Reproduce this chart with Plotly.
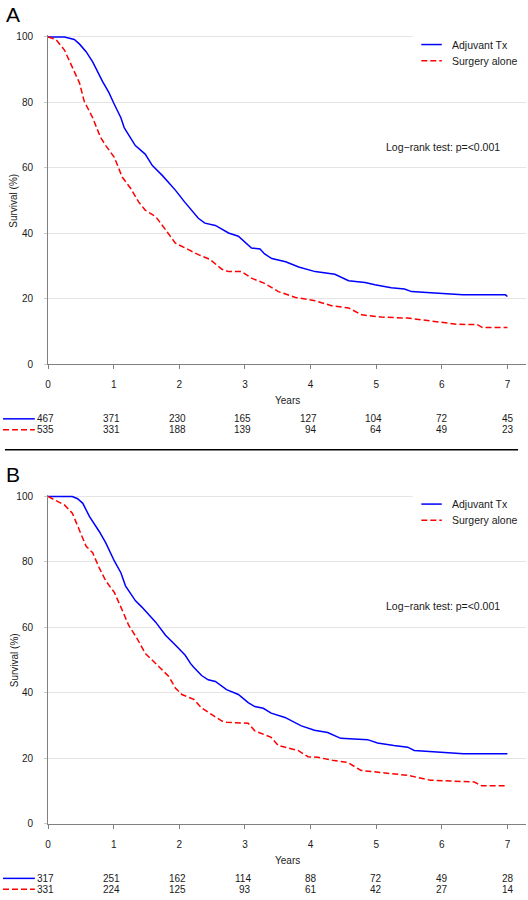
import plotly.graph_objects as go

W, H = 528, 900

# ---------------- data ----------------
year_ticks = [0, 1, 2, 3, 4, 5, 6, 7]
surv_ticks = [0, 20, 40, 60, 80, 100]
series_names = ["Adjuvant Tx", "Surgery alone"]
panel_labels = ["A", "B"]
logrank_text = "Log\u2212rank test: p=<0.001"

# Panel A
a_adj_t = [0, 0.25, 0.40, 0.48, 0.58, 0.68, 0.83, 0.93, 1.00, 1.11, 1.16, 1.33, 1.48, 1.59, 1.74,
           1.94, 2.08, 2.19, 2.29, 2.39, 2.55, 2.75, 2.90, 3.10, 3.23, 3.30, 3.41, 3.62, 3.82,
           4.07, 4.37, 4.58, 4.83, 4.98, 5.23, 5.43, 5.54, 5.89, 6.32, 6.97, 7.00]
a_adj_s = [100, 100, 99.2, 97.8, 95.5, 92.4, 86.4, 82.9, 79.8, 75.3, 72.3, 66.8, 64.2, 60.7, 57.7,
           53.2, 49.6, 47.1, 44.6, 43.1, 42.4, 40.1, 39.1, 35.5, 35.2, 33.7, 32.3, 31.3, 29.7,
           28.3, 27.5, 25.5, 25.0, 24.3, 23.4, 23.0, 22.2, 21.8, 21.2, 21.2, 20.7]
a_sur_t = [0, 0.12, 0.25, 0.35, 0.48, 0.55, 0.68, 0.80, 0.88, 1.01, 1.13, 1.26, 1.38, 1.48, 1.64,
           1.79, 1.94, 2.14, 2.29, 2.47, 2.65, 2.75, 2.95, 3.10, 3.30, 3.51, 3.77, 4.07, 4.32,
           4.58, 4.78, 5.08, 5.48, 5.84, 6.24, 6.54, 6.62, 7.00]
a_sur_s = [100, 99.2, 96.0, 91.4, 85.9, 80.4, 75.3, 69.3, 66.8, 63.2, 57.2, 53.7, 49.6, 47.1, 45.1,
           41.1, 37.0, 35.0, 33.5, 32.0, 29.0, 28.3, 28.3, 26.3, 24.7, 22.2, 20.4, 19.4, 17.9,
           17.2, 15.1, 14.4, 14.1, 13.2, 12.2, 12.1, 11.2, 11.2]
a_risk_adj = [467, 371, 230, 165, 127, 104, 72, 45]
a_risk_sur = [535, 331, 188, 139, 94, 64, 49, 23]

# Panel B
b_adj_t = [0, 0.37, 0.45, 0.53, 0.63, 0.78, 0.88, 1.01, 1.11, 1.18, 1.33, 1.43, 1.64, 1.79, 1.97,
           2.09, 2.17, 2.22, 2.34, 2.44, 2.55, 2.72, 2.90, 3.05, 3.15, 3.28, 3.40, 3.61, 3.86,
           4.06, 4.26, 4.46, 4.87, 5.02, 5.27, 5.48, 5.58, 5.98, 6.33, 7.00]
b_adj_s = [100, 100, 99.3, 97.9, 93.9, 89.3, 85.8, 80.3, 76.7, 72.7, 68.2, 66.2, 61.6, 57.6, 54.0,
           51.5, 49.0, 47.8, 45.3, 44.0, 43.5, 41.0, 39.5, 37.0, 35.8, 35.3, 33.8, 32.5, 29.9,
           28.6, 27.9, 26.1, 25.7, 24.7, 23.9, 23.4, 22.4, 21.9, 21.4, 21.4]
b_sur_t = [0, 0.12, 0.25, 0.37, 0.48, 0.58, 0.68, 0.78, 0.88, 1.01, 1.11, 1.23, 1.36, 1.48, 1.69,
           1.84, 1.94, 2.04, 2.22, 2.34, 2.49, 2.65, 2.72, 3.05, 3.15, 3.40, 3.51, 3.81, 3.96,
           4.11, 4.36, 4.56, 4.77, 5.07, 5.48, 5.83, 6.49, 6.61, 7.00]
b_sur_s = [100, 98.8, 97.4, 94.9, 89.8, 84.8, 82.8, 78.2, 74.2, 70.7, 66.2, 60.6, 56.5, 52.1, 48.0,
           45.0, 41.5, 39.5, 38.0, 35.4, 33.4, 31.4, 31.0, 30.7, 28.4, 26.4, 23.9, 22.4, 20.5,
           20.3, 19.3, 18.8, 16.3, 15.6, 14.8, 13.3, 12.8, 11.6, 11.6]
b_risk_adj = [317, 251, 162, 114, 88, 72, 49, 28]
b_risk_sur = [331, 224, 125, 93, 61, 42, 27, 14]

# ---------------- styling / layout ----------------
FONT = "Liberation Sans, Arial, Helvetica, sans-serif"
BLUE = "#0000ff"
RED = "#ff0000"
DASH = "6px,3px"
AX = "#808080"
GRID = "#e4e4e4"
TXT = "#1a1a1a"

X0, X1 = 45.3, 526.0          # plot area left/right in px
PX_PER_YEAR = 66.0
XMAX = (X1 - X0) / PX_PER_YEAR
PX_PER_PCT = 3.31
YMAX = 100.6

def fx(px):
    return px / W

def fy(py):
    return 1 - py / H

panels = [
    dict(label=panel_labels[0], dy=0.0, xa="x", ya="y",
         adj=(a_adj_t, a_adj_s), sur=(a_sur_t, a_sur_s), risk=(a_risk_adj, a_risk_sur)),
    dict(label=panel_labels[1], dy=464.7, xa="x2", ya="y2",
         adj=(b_adj_t, b_adj_s), sur=(b_sur_t, b_sur_s), risk=(b_risk_adj, b_risk_sur)),
]

fig = go.Figure()
annotations = []
shapes = []
layout_axes = {}

for i, p in enumerate(panels):
    dy = p["dy"]
    y_zero = 364.3 + dy
    y_top = y_zero - PX_PER_PCT * YMAX
    fig.add_trace(go.Scatter(x=p["adj"][0], y=p["adj"][1], mode="lines",
                             name=series_names[0], showlegend=False,
                             line=dict(color=BLUE, width=1.5),
                             xaxis=p["xa"], yaxis=p["ya"]))
    fig.add_trace(go.Scatter(x=p["sur"][0], y=p["sur"][1], mode="lines",
                             name=series_names[1], showlegend=False,
                             line=dict(color=RED, width=1.5, dash=DASH),
                             xaxis=p["xa"], yaxis=p["ya"]))
    sfx = "" if i == 0 else "2"
    layout_axes["xaxis" + sfx] = dict(
        domain=[fx(X0), fx(X1)], range=[0, XMAX], anchor=p["ya"],
        tickvals=year_ticks, ticks="outside", ticklen=4, tickcolor=AX, tickwidth=1,
        showline=True, linecolor=AX, linewidth=1, showgrid=False, zeroline=False,
        tickfont=dict(size=10, color=TXT, family=FONT), ticklabelstandoff=7,
        fixedrange=True)
    layout_axes["yaxis" + sfx] = dict(
        domain=[fy(y_zero), fy(y_top)], range=[0, YMAX], anchor=p["xa"],
        tickvals=surv_ticks, ticks="outside", ticklen=3, tickcolor="#cccccc", tickwidth=1,
        showline=True, linecolor=AX, linewidth=1, showgrid=True, gridcolor=GRID,
        gridwidth=1, zeroline=False,
        tickfont=dict(size=10, color=TXT, family=FONT), ticklabelstandoff=9,
        fixedrange=True)

    # panel letter
    annotations.append(dict(text=p["label"], x=fx(1), y=fy(11 + dy), xref="paper", yref="paper",
                            xanchor="left", yanchor="middle", showarrow=False,
                            font=dict(size=21, color="#000", family=FONT)))
    # y title
    annotations.append(dict(text="Survival (%)", x=fx(11), y=fy(199 + dy), xref="paper",
                            yref="paper", textangle=-90, showarrow=False,
                            xanchor="center", yanchor="middle",
                            font=dict(size=10, color=TXT, family=FONT)))
    # x title
    annotations.append(dict(text="Years", x=fx(286), y=fy(401 + dy), xref="paper", yref="paper",
                            showarrow=False, xanchor="center", yanchor="middle",
                            font=dict(size=10, color=TXT, family=FONT)))
    # log-rank
    annotations.append(dict(text=logrank_text, x=fx(383.5), y=fy(144.3 + dy), xref="paper",
                            yref="paper", showarrow=False, xanchor="left", yanchor="middle",
                            font=dict(size=10.5, color=TXT, family=FONT)))
    # legend background + entries
    shapes.append(dict(type="rect", xref="paper", yref="paper", x0=fx(412), x1=fx(528),
                       y0=fy(66 + dy), y1=fy(30 + dy), fillcolor="white",
                       line=dict(width=0), layer="above"))
    for k, (col, dash, yy) in enumerate([(BLUE, "solid", 41.0), (RED, DASH, 57.3)]):
        shapes.append(dict(type="line", xref="paper", yref="paper",
                           x0=fx(420.7), x1=fx(441.3), y0=fy(yy + dy), y1=fy(yy + dy),
                           line=dict(color=col, width=1.5, dash=dash), layer="above"))
        annotations.append(dict(text=series_names[k], x=fx(449.5), y=fy(yy + dy),
                                xref="paper", yref="paper", showarrow=False,
                                xanchor="left", yanchor="middle",
                                font=dict(size=10.5, color=TXT, family=FONT)))
    # numbers at risk
    for k, (col, dash, yy) in enumerate([(BLUE, "solid", 419.5), (RED, DASH, 430.5)]):
        shapes.append(dict(type="line", xref="paper", yref="paper",
                           x0=fx(0), x1=fx(32), y0=fy(yy + dy), y1=fy(yy + dy),
                           line=dict(color=col, width=1.5, dash=dash), layer="above"))
        for tv, n in zip(year_ticks, p["risk"][k]):
            annotations.append(dict(text=str(n), x=tv + 8.3 / PX_PER_YEAR, y=fy(yy + dy),
                                    xref=p["xa"], yref="paper", showarrow=False,
                                    xanchor="right", yanchor="middle",
                                    font=dict(size=10, color=TXT, family=FONT)))

# separator between panels
shapes.append(dict(type="line", xref="paper", yref="paper", x0=fx(2), x1=fx(518),
                   y0=fy(450.7), y1=fy(450.7), line=dict(color="#000", width=1.5),
                   layer="above"))

fig.update_layout(
    width=W, height=H, margin=dict(l=0, r=0, t=0, b=0),
    paper_bgcolor="white", plot_bgcolor="white",
    font=dict(family=FONT, size=10, color=TXT),
    showlegend=False, annotations=annotations, shapes=shapes,
    **layout_axes)

fig.write_html("out.html", config={"displayModeBar": False},
               post_script="document.body.style.margin='0';document.body.style.padding='0';")
